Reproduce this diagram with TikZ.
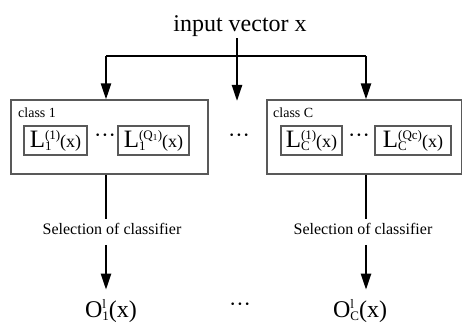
\documentclass[tikz,border=0pt]{standalone}
\usepackage{fontspec}
\setmainfont{Liberation Serif}
\usetikzlibrary{arrows.meta}
\newcommand\fs[1]{\fontsize{#1}{#1}\selectfont}
\newcommand\mysupsub[3]{{\fs{#1}\setbox0\hbox{#2}\setbox2\hbox{#3}%
  \ifdim\wd0>\wd2 \dimen0=\wd0 \else \dimen0=\wd2 \fi
  \rlap{\raise .62em\box0}\rlap{\lower .25em\box2}\hspace{\dimen0}}}
\newcommand\Lab[2]{{\fs{25}L}\mysupsub{13}{#1}{#2}{\fs{18}(x)}}
\newcommand\Olab[1]{{\fs{24}O}\mysupsub{13}{l}{#1}{\fs{24}(x)}}
\begin{document}
\begin{tikzpicture}[x=1pt,y=-1pt,
  frame/.style={draw=black!65,line width=1.1pt},
  inbox/.style={frame,minimum height=29pt,inner sep=0pt},
  conn/.style={line width=2.3pt,black},
  arr/.style={conn,-{Triangle[length=16pt,width=10pt]}},
  dots/.style={font=\fs{22},inner sep=0pt},
  sel/.style={font=\fs{16},inner sep=0pt},
  cls/.style={font=\fs{14},inner sep=0pt,anchor=base west}]
\useasboundingbox (0,0) rectangle (462,323);
% title
\node[font=\fs{24},inner sep=0pt,anchor=base] (in) at (240,32) {input vector x};
\coordinate (j) at (237,56);
\coordinate (l) at (106,56);
\coordinate (r) at (366,56);
\coordinate (tm) at (237,101);
% class boxes
\node[frame,minimum width=197pt,minimum height=74pt,inner sep=0pt] (b1) at (109.5,137) {};
\node[frame,minimum width=195pt,minimum height=74pt,inner sep=0pt] (bC) at (364.5,137) {};
\node[cls] (c1) at (18,118) {class 1};
\node[cls] (cC) at (273,118) {class C};
% inner boxes
\node[inbox,minimum width=63pt] (L11) at (55.5,140.5) {\Lab{(1)}{1}};
\node[inbox,minimum width=71pt] (L1Q) at (153.5,140.5) {\Lab{(Q\textsubscript{1})}{1}};
\node[inbox,minimum width=61pt] (LC1) at (311.5,140.5) {\Lab{(1)}{C}};
\node[inbox,minimum width=76pt] (LCQ) at (413,140.5) {\Lab{(Qc)}{C}};
\node[dots] (d1) at (105,138) {···};
\node[dots] (dC) at (359,138) {···};
\node[dots] (dm) at (239,138) {···};
% selection
\node[sel] (s1) at (112,229) {Selection of classifier};
\node[sel] (sC) at (363,229) {Selection of classifier};
% outputs
\node[inner sep=0pt,anchor=base] (o1) at (111,317) {\Olab{1}};
\node[inner sep=0pt,anchor=base] (oC) at (360,317) {\Olab{C}};
\node[dots] (do) at (240,307) {···};
% connectors
\draw[conn] ([yshift=-1pt]in.south -| j) -- (j);
\draw[arr] (j) -- (tm);
\draw[conn] (l) -- (r);
\draw[arr] (l) -- (l |- b1.north);
\draw[arr] (r) -- (r |- bC.north);
\draw[conn] (l |- b1.south) -- ([yshift=4pt]l |- s1.north);
\draw[conn] (r |- bC.south) -- ([yshift=4pt]r |- sC.north);
\draw[arr] ([yshift=-10pt]l |- s1.south) -- ([yshift=10pt]l |- o1.north);
\draw[arr] ([yshift=-10pt]r |- sC.south) -- ([yshift=10pt]r |- oC.north);
\end{tikzpicture}
\end{document}
